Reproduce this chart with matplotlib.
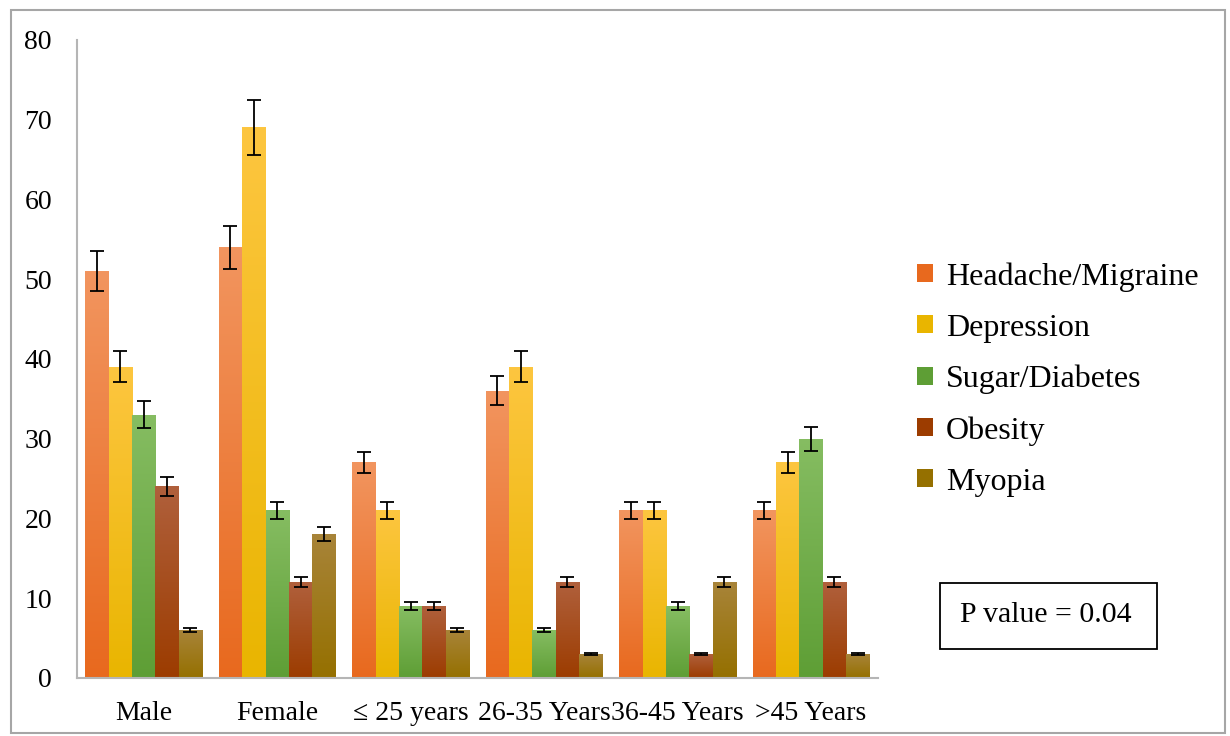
import numpy as np
import matplotlib.pyplot as plt
from matplotlib.colors import LinearSegmentedColormap
from matplotlib.patches import Rectangle, Patch

plt.rcParams['font.family'] = ['Liberation Serif', 'DejaVu Serif']

# groups along the x axis
groups = ['Male', 'Female', '\u2264 25 years', '26-35 Years', '36-45 Years', '>45 Years']
series = ['Headache/Migraine', 'Depression', 'Sugar/Diabetes', 'Obesity', 'Myopia']

headache = [51, 54, 27, 36, 21, 21]
depression = [39, 69, 21, 39, 21, 27]
diabetes = [33, 21, 9, 6, 9, 30]
obesity = [24, 12, 9, 12, 3, 12]
myopia = [6, 18, 6, 3, 12, 3]
values = [headache, depression, diabetes, obesity, myopia]

# error bars are 5% of each value
err_frac = 0.05

# (top colour, bottom colour) for the vertical gradient of each series
grad = [('#F2955F', '#E8691E'),
        ('#FDC640', '#E9B500'),
        ('#86BD62', '#5E9E35'),
        ('#B0603C', '#9C3C00'),
        ('#A88439', '#957000')]

fig = plt.figure(figsize=(12.3, 7.36), dpi=100)
ax = fig.add_axes([0.0626, 0.079, 0.651, 0.867])

x = np.arange(len(groups))
w = 0.175
grad_img = np.linspace(0, 1, 256).reshape(-1, 1)

for i, vals in enumerate(values):
    pos = x + (i - 2) * w
    bars = ax.bar(pos, vals, w, color='none', edgecolor='none', zorder=2)
    cmap = LinearSegmentedColormap.from_list('g%d' % i, [grad[i][0], grad[i][1]])
    for b in bars:
        bx, by = b.get_x(), b.get_y()
        bw, bh = b.get_width(), b.get_height()
        im = ax.imshow(grad_img, cmap=cmap, aspect='auto',
                       extent=[bx, bx + bw, by, by + bh], origin='upper', zorder=2)
        im.set_clip_path(b)
    ax.errorbar(pos, vals, yerr=np.array(vals) * err_frac, fmt='none',
                ecolor='black', elinewidth=1.3, capsize=5, capthick=1.3, zorder=3)

ax.set_xlim(-0.5, len(groups) - 0.5)
ax.set_ylim(0, 80)
ax.set_yticks(range(0, 81, 10))
ax.set_xticks(x)
ax.set_xticklabels(groups)
ax.tick_params(axis='both', length=0, labelsize=20, colors='black')
ax.tick_params(axis='y', pad=18)
ax.tick_params(axis='x', pad=17)
for s in ['top', 'right']:
    ax.spines[s].set_visible(False)
for s in ['left', 'bottom']:
    ax.spines[s].set_color('#B5B5B5')
    ax.spines[s].set_linewidth(1.5)

handles = [Patch(facecolor=grad[i][1], edgecolor='none') for i in range(len(series))]
fig.legend(handles, series, loc='upper left', bbox_to_anchor=(0.7224, 0.683),
           frameon=False, fontsize=23, handlelength=0.5, handleheight=0.5,
           handletextpad=0.4, labelspacing=0.69)

# p-value box
fig.patches.append(Rectangle((0.764, 0.118), 0.177, 0.09, transform=fig.transFigure,
                             facecolor='white', edgecolor='black', linewidth=1.3))
fig.text(0.85, 0.165, 'P value = 0.04', ha='center', va='center', fontsize=21.5)

# outer frame
fig.patches.append(Rectangle((0.009, 0.004), 0.987, 0.982, transform=fig.transFigure,
                             facecolor='none', edgecolor='#A6A6A6', linewidth=1.5))

fig.savefig('out.png', dpi=100)
